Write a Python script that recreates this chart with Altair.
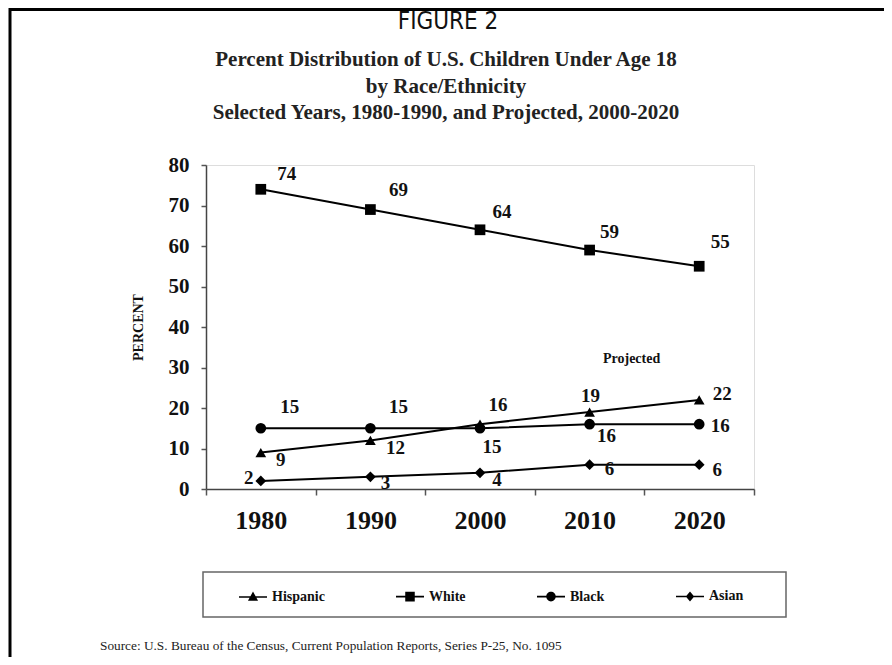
import altair as alt
import pandas as pd

# ---------------- data ----------------
YEARS = ["1980", "1990", "2000", "2010", "2020"]
SERIES = ["Hispanic", "White", "Black", "Asian"]
HISPANIC = [9, 12, 16, 19, 22]
WHITE = [74, 69, 64, 59, 55]
BLACK = [15, 15, 15, 16, 16]
ASIAN = [2, 3, 4, 6, 6]
Y_TICKS = [0, 10, 20, 30, 40, 50, 60, 70, 80]

TITLE = "FIGURE 2"
SUBTITLE = [
    "Percent Distribution of U.S. Children Under Age 18",
    "by Race/Ethnicity",
    "Selected Years, 1980-1990, and Projected, 2000-2020",
]
Y_TITLE = "PERCENT"
NOTE = "Projected"
NOTE_YEAR = "2010"
NOTE_VALUE = 32
SOURCE = "Source: U.S. Bureau of the Census, Current Population Reports, Series P-25, No. 1095"

rows = []
for name, vals in zip(SERIES, [HISPANIC, WHITE, BLACK, ASIAN]):
    for yr, v in zip(YEARS, vals):
        rows.append({"series": name, "year": yr, "value": v, "key": name + "-" + yr})
df = pd.DataFrame(rows)

# ---------------- layout / style ----------------
W, H = 548, 324
SERIF = "Liberation Serif"
INK = "#111111"

# label placement (pixel offsets from the marker centre)
LABEL_OFFSETS = {
    "White-1980": (26, -15), "White-1990": (28, -20), "White-2000": (22, -18),
    "White-2010": (20, -18), "White-2020": (21, -24),
    "Hispanic-1980": (20, 7), "Hispanic-1990": (25, 8), "Hispanic-2000": (18, -19),
    "Hispanic-2010": (1, -16), "Hispanic-2020": (23, -6),
    "Black-1980": (29, -21), "Black-1990": (28, -21), "Black-2000": (12, 19),
    "Black-2010": (17, 12), "Black-2020": (21, 2),
    "Asian-1980": (-12, -3), "Asian-1990": (15, 6), "Asian-2000": (17, 7),
    "Asian-2010": (20, 4), "Asian-2020": (18, 5),
}

SHAPES = ["triangle-up", "square", "circle", "diamond"]
# legend glyphs: a short line (thin filled bar) with the series marker on it
BAR = "M-1,-0.055H1V0.055H-1Z"
LEGEND_PATHS = [
    BAR + "M0,-0.4L0.36,0.26H-0.36Z",
    BAR + "M-0.34,-0.34H0.34V0.34H-0.34Z",
    BAR + "M-0.34,0A0.34,0.34 0 1,1 0.34,0A0.34,0.34 0 1,1 -0.34,0Z",
    BAR + "M0,-0.36L0.3,0L0,0.36L-0.3,0Z",
]

x_enc = alt.X(
    "year:O",
    scale=alt.Scale(type="band", domain=YEARS, paddingInner=0, paddingOuter=0),
    axis=alt.Axis(
        title=None, labelAngle=0, tickBand="extent",
        domainColor="#444", domainWidth=1.5, tickColor="#555", tickWidth=1.5, tickSize=6,
        labelFont=SERIF, labelFontWeight="bold", labelFontSize=26, labelColor=INK,
        labelPadding=12,
    ),
)
y_enc = alt.Y(
    "value:Q",
    scale=alt.Scale(domain=[0, 80], nice=False, zero=True),
    axis=alt.Axis(
        values=Y_TICKS, grid=False, title=Y_TITLE,
        domainColor="#444", domainWidth=1.5, tickColor="#555", tickWidth=1.5, tickSize=5,
        labelFont=SERIF, labelFontWeight="bold", labelFontSize=21, labelColor=INK,
        labelPadding=12,
        titleFont=SERIF, titleFontWeight="bold", titleFontSize=14, titleColor=INK,
        titleX=-68, titleY=162, titleAngle=270, titleAlign="center", titleBaseline="middle",
    ),
)

blank = alt.Data(values=[{}])

border = alt.Chart(blank).mark_rect(filled=False, stroke="black", strokeWidth=3).encode(
    x=alt.value(-196), x2=alt.value(900), y=alt.value(-155.5), y2=alt.value(900)
)
legend_box = alt.Chart(blank).mark_rect(filled=False, stroke="#666", strokeWidth=1.5).encode(
    x=alt.value(-3), x2=alt.value(580), y=alt.value(407), y2=alt.value(452)
)

# title block as text marks (centred on the page)
title_layers = [
    alt.Chart(alt.Data(values=[{"t": TITLE}])).mark_text(
        font="Liberation Sans Narrow, DejaVu Sans Condensed, Liberation Sans", fontSize=24,
        color=INK, align="center", baseline="middle"
    ).encode(x=alt.value(242), y=alt.value(-143), text="t:N")
]
for i, line in enumerate(SUBTITLE):
    title_layers.append(
        alt.Chart(alt.Data(values=[{"t": line}])).mark_text(
            font=SERIF, fontWeight="bold", fontSize=21, color="#222",
            align="center", baseline="middle"
        ).encode(x=alt.value(240), y=alt.value(-105 + 26.5 * i), text="t:N")
    )

base = alt.Chart(df)
lines = base.mark_line(color="black", strokeWidth=2).encode(x=x_enc, y=y_enc, detail="series:N")
points = base.mark_point(filled=True, color="black", size=115, opacity=1).encode(
    x=x_enc, y=y_enc,
    shape=alt.Shape("series:N", scale=alt.Scale(domain=SERIES, range=SHAPES), legend=None),
)
legend_layer = base.transform_filter("false").mark_point(
    filled=True, color="black", opacity=1
).encode(
    x=x_enc, y=y_enc,
    shape=alt.Shape(
        "series:N",
        scale=alt.Scale(domain=SERIES, range=LEGEND_PATHS),
        legend=alt.Legend(
            title=None, orient="none", legendX=32, legendY=416, direction="horizontal",
            columnPadding=68, padding=0, symbolSize=784,
            symbolFillColor="black", symbolOpacity=1,
            labelFont=SERIF, labelFontWeight="bold", labelFontSize=14, labelColor=INK,
            labelOffset=4,
        ),
    ),
)

label_layers = []
groups = {}
for k, off in LABEL_OFFSETS.items():
    groups.setdefault(off, []).append(k)
for (dx, dy), keys in groups.items():
    label_layers.append(
        base.transform_filter(alt.FieldOneOfPredicate(field="key", oneOf=keys))
        .mark_text(dx=dx, dy=dy, font=SERIF, fontWeight="bold", fontSize=19, color=INK,
                   align="center", baseline="middle")
        .encode(x=x_enc, y=y_enc, text="value:Q")
    )

note = alt.Chart(alt.Data(values=[{"t": NOTE, "year": NOTE_YEAR, "value": NOTE_VALUE}])).mark_text(
    dx=42, font=SERIF, fontWeight="bold", fontSize=14, color=INK, align="center", baseline="middle"
).encode(x=x_enc, y=y_enc, text="t:N")

source = alt.Chart(alt.Data(values=[{"t": SOURCE}])).mark_text(
    font=SERIF, fontSize=13.3, color="#222", align="left", baseline="middle"
).encode(x=alt.value(-106), y=alt.value(481), text="t:N")

chart = alt.layer(
    border, legend_box, *title_layers, lines, points, legend_layer, *label_layers, note, source
).resolve_scale(shape="independent").properties(
    width=W, height=H, autosize="none",
    padding={"left": 198, "top": 157, "right": 130, "bottom": 168},
).configure_view(stroke=None).configure(background="white")

chart.save("out.html", embed_options={"renderer": "svg", "actions": False})
